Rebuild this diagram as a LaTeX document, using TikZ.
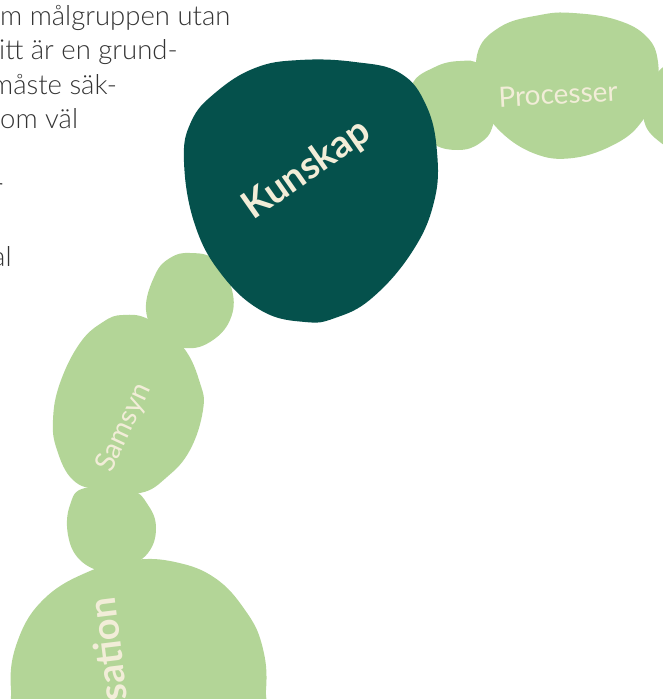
\documentclass[tikz,border=0pt]{standalone}
\usepackage{fontspec}
\setmainfont{Lato}
\newfontfamily\lightfont{Lato Light}
\definecolor{kunskapgreen}{HTML}{05514C}
\definecolor{leafgreen}{HTML}{B3D597}
\definecolor{cream}{HTML}{F2EDD8}
\definecolor{bodygray}{HTML}{333333}
\begin{document}
\begin{tikzpicture}[x=1pt,y=-1pt,
  blob/.style={fill=leafgreen},
  keyblob/.style={fill=kunskapgreen},
  leaflabel/.style={text=cream,font=\fontsize{28}{28}\selectfont,inner sep=0pt},
  keylabel/.style={text=cream,font=\fontsize{38}{38}\selectfont\bfseries,inner sep=0pt},
  body/.style={text=bodygray,font=\lightfont\fontsize{27.5}{27.5}\selectfont,anchor=base west,inner sep=0pt}]
\clip (0,0) rectangle (663,699);

\node[body] (l1) at (0,25) {m målgruppen utan};
\node[body] (l2) at (-1,59.5) {itt är en grund-};
\node[body] (l3) at (-9,94) {måste säk-};
\node[body] (l4) at (0,128.5) {om väl};
\node[body] (l6) at (-7,197.5) {r};
\node[body] (l8) at (-8,266.5) {al};

\fill[blob] plot[smooth cycle,tension=0.7] coordinates {(412,85) (435,67) (460,61) (480,65) (495,90) (493,125) (480,143) (458,150) (432,143) (415,120)};
\fill[blob] plot[smooth cycle,tension=0.7] coordinates {(477,55) (500,27) (540,15) (573,13) (617,20) (647,37) (658,62) (655,92) (643,120) (617,143) (573,158) (533,153) (497,128) (483,100)};
\fill[blob] plot[smooth cycle,tension=0.7] coordinates {(690,60) (655,75) (643,110) (655,138) (690,150) (725,110)};
\fill[blob] plot[smooth cycle,tension=0.7] coordinates {(190,253) (215,260) (232,290) (230,320) (210,342) (185,348) (160,338) (146,310) (155,275) (170,258)};
\fill[blob] plot[smooth cycle,tension=0.7] coordinates {(123,315) (150,320) (183,347) (200,383) (203,410) (190,450) (167,477) (140,493) (100,490) (73,480) (57,450) (53,420) (60,383) (80,343) (103,322)};
\fill[blob] plot[smooth cycle,tension=0.7] coordinates {(85,488) (130,490) (148,505) (156,528) (148,553) (125,568) (105,572) (80,560) (68,535) (70,505)};
\fill[blob] plot[smooth cycle,tension=0.7] coordinates {(133,560) (175,562) (215,578) (245,610) (262,645) (266,690) (255,740) (140,770) (25,740) (11,690) (18,640) (45,598) (90,571)};
\fill[keyblob] plot[smooth cycle,tension=0.7] coordinates {(184,162) (191,122) (215,93) (255,68) (300,60) (355,62) (400,73) (426,105) (437,152) (434,202) (412,252) (372,298) (335,318) (305,322) (262,311) (222,275) (195,225)};

\node[keylabel,rotate=35] (kunskap) at (307,170) {Kunskap};
\node[leaflabel,rotate=3] (processer) at (558,94) {Processer};
\node[leaflabel,rotate=65] (samsyn) at (124,428) {Samsyn};
\node[keylabel,rotate=97,anchor=east] (sation) at (101,598) {sation};
\end{tikzpicture}
\end{document}
